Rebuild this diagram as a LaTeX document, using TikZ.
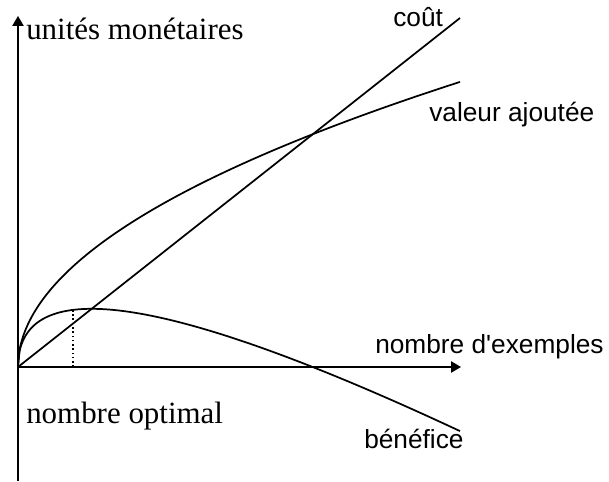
\documentclass[tikz,border=0pt]{standalone}
\usepackage{fontspec}
\setmainfont{Liberation Serif}
\newfontfamily\sanslat{Liberation Sans}
\usetikzlibrary{arrows.meta}
\tikzset{
  axe/.style={line width=1.1pt,-{Triangle[length=7.5pt,width=8.5pt]}},
  courbe/.style={line width=1.3pt},
  serif/.style={inner sep=0pt,anchor=base west,font=\fontsize{23.2}{26}\selectfont},
  sans/.style={inner sep=0pt,anchor=base west,font=\sanslat\fontsize{19.7}{22}\selectfont}
}
\begin{document}
\begin{tikzpicture}[x=0.75pt,y=-0.75pt]
      \useasboundingbox (0,0) rectangle (609,481);
      \coordinate (O) at (18,367);
      \coordinate (ybas) at (18,481);
      \coordinate (yhaut) at (18,16);
      \coordinate (xfin) at (461,367);
      \coordinate (cfin) at (460,18);
      \coordinate (opt) at (73,367);
      \coordinate (optb) at (73,310);
      \draw[axe] (ybas) -- (yhaut);
      \draw[axe] (O) -- (xfin);
      \begin{scope}[courbe]
        \draw (O) -- (cfin);
        \draw plot[domain=0:442,samples=300,smooth] ({18+\x},{367-13.56*sqrt(\x)});
        \draw plot[domain=0:442,samples=300,smooth] ({18+\x},{367-13.56*sqrt(\x)+0.79*\x});
      \end{scope}
      \draw[line width=1.2pt,dotted] (opt) -- (optb);
      \draw
        (26,40) node[serif] (um){unités monétaires}
        (26,423) node[serif] (no){nombre optimal}
        (393,27) node[sans] (co){coût}
        (429,122) node[sans] (va){valeur ajoutée}
        (375,353) node[sans] (ne){nombre d'exemples}
        (364,448) node[sans] (be){bénéfice};
    \end{tikzpicture}
\end{document}
